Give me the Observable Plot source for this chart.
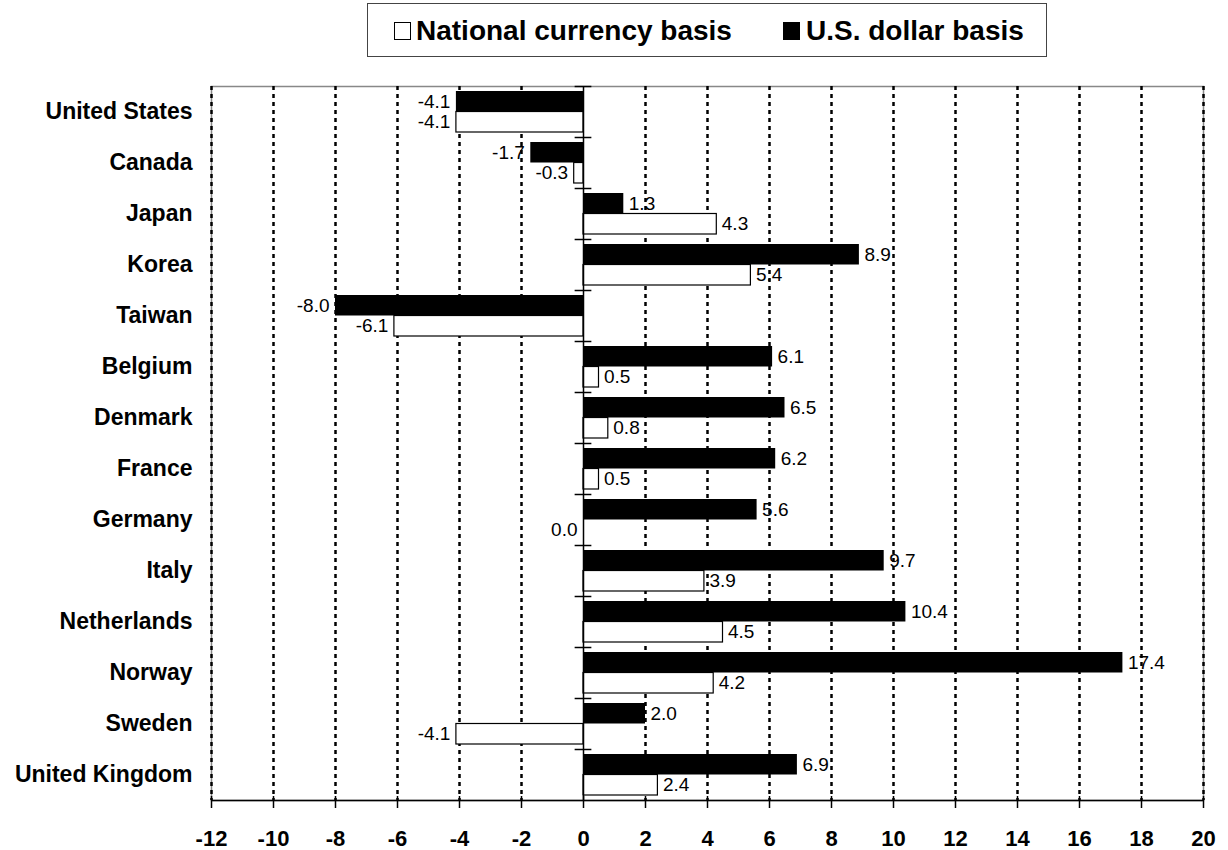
<!DOCTYPE html>
<html>
<head>
<meta charset="utf-8">
<script src="https://cdn.jsdelivr.net/npm/d3@7"></script>
<script src="https://cdn.jsdelivr.net/npm/@observablehq/plot@0.6"></script>
<style>
  body { margin: 0; background: #fff; font-family: "Liberation Sans", Arial, sans-serif; }
  #wrap { position: relative; width: 1228px; height: 850px; }
  #legend { position: absolute; left: 367px; top: 3px; width: 680px; height: 54px; border: 1px solid #444; box-sizing: border-box; background: #fff; }
  .sw { position: absolute; width: 17px; height: 18px; box-sizing: border-box; border: 1.5px solid #000; }
  .lt { position: absolute; font: bold 28px/28px "Liberation Sans", Arial, sans-serif; white-space: nowrap; color: #000; }
</style>
</head>
<body>
<div id="wrap">
  <div id="chart"></div>
  <div id="legend"></div>
</div>
<script>
const countries = ["United States","Canada","Japan","Korea","Taiwan","Belgium","Denmark","France","Germany","Italy","Netherlands","Norway","Sweden","United Kingdom"];
const usdValues = [-4.1, -1.7, 1.3, 8.9, -8.0, 6.1, 6.5, 6.2, 5.6, 9.7, 10.4, 17.4, 2.0, 6.9];
const natValues = [-4.1, -0.3, 4.3, 5.4, -6.1, 0.5, 0.8, 0.5, 0.0, 3.9, 4.5, 4.2, -4.1, 2.4];
const seriesNames = ["National currency basis", "U.S. dollar basis"];
const xTicks = [-12, -10, -8, -6, -4, -2, 0, 2, 4, 6, 8, 10, 12, 14, 16, 18, 20];

const usd = countries.map((c, i) => ({country: c, value: usdValues[i]}));
const nat = countries.map((c, i) => ({country: c, value: natValues[i]}));

const band = (850 - 86 - 50) / countries.length; // 51
const half = band / 2;
const fmt = v => v.toFixed(1);

function labels(data, dy) {
  return [
    Plot.text(data.filter(d => d.value > 0), {x: "value", y: "country", text: d => fmt(d.value), dy, dx: 5, textAnchor: "start", fontSize: 19, fill: "#000"}),
    Plot.text(data.filter(d => d.value <= 0), {x: "value", y: "country", text: d => fmt(d.value), dy, dx: -6, textAnchor: "end", fontSize: 19, fill: "#000"})
  ];
}

const chart = Plot.plot({
  width: 1228,
  height: 850,
  marginTop: 86,
  marginBottom: 50,
  marginLeft: 211,
  marginRight: 25,
  style: {fontFamily: "'Liberation Sans', Arial, sans-serif", background: "#fff", color: "#000"},
  x: {domain: [-12, 20], axis: null, label: null},
  y: {domain: countries, padding: 0, axis: null, label: null},
  marks: [
    Plot.frame({stroke: "#888", strokeWidth: 1.5}),
    ...labels(usd, -10.25),
    ...labels(nat, 10.25),
    Plot.ruleX(xTicks.filter(t => t !== 0), {stroke: "#000", strokeWidth: 2.5, strokeDasharray: "4,4"}),
    Plot.barX(usd, {x: "value", y: "country", fill: "#000", insetTop: 5, insetBottom: band - 25.5}),
    Plot.barX(nat, {x: "value", y: "country", fill: "#fff", stroke: "#000", strokeWidth: 1.2, insetTop: 25.5, insetBottom: 5}),
    Plot.ruleX([0], {stroke: "#000", strokeWidth: 1.5}),
    Plot.ruleY(countries, {y: d => d, x1: -0.27, x2: 0.27, dy: -half, stroke: "#000", strokeWidth: 1.5}),
    Plot.ruleY([countries[countries.length - 1]], {y: d => d, x1: -12, x2: 20, dy: half, stroke: "#000", strokeWidth: 1.5}),
    Plot.axisX(xTicks, {anchor: "bottom", tickSize: 12, dy: -4, text: null, label: null, strokeWidth: 1.5}),
    Plot.axisX(xTicks, {anchor: "bottom", tickSize: 0, tickPadding: 30, fontSize: 22, fontWeight: "bold", label: null, tickFormat: d => String(d)}),
    Plot.axisY({anchor: "left", tickSize: 0, tickPadding: 19, fontSize: 23, fontWeight: "bold", label: null})
  ]
});
document.getElementById("chart").appendChild(chart);

// Legend (HTML, positioned above the plot area)
const legend = document.getElementById("legend");
const items = [
  {name: seriesNames[0], fill: "#fff", sx: 26, tx: 48},
  {name: seriesNames[1], fill: "#000", sx: 415, tx: 438}
];
for (const it of items) {
  const sw = document.createElement("div");
  sw.className = "sw";
  sw.style.left = it.sx + "px";
  sw.style.top = "18px";
  sw.style.background = it.fill;
  legend.appendChild(sw);
  const t = document.createElement("div");
  t.className = "lt";
  t.style.left = it.tx + "px";
  t.style.top = "13px";
  t.textContent = it.name;
  legend.appendChild(t);
}
</script>
</body>
</html>
